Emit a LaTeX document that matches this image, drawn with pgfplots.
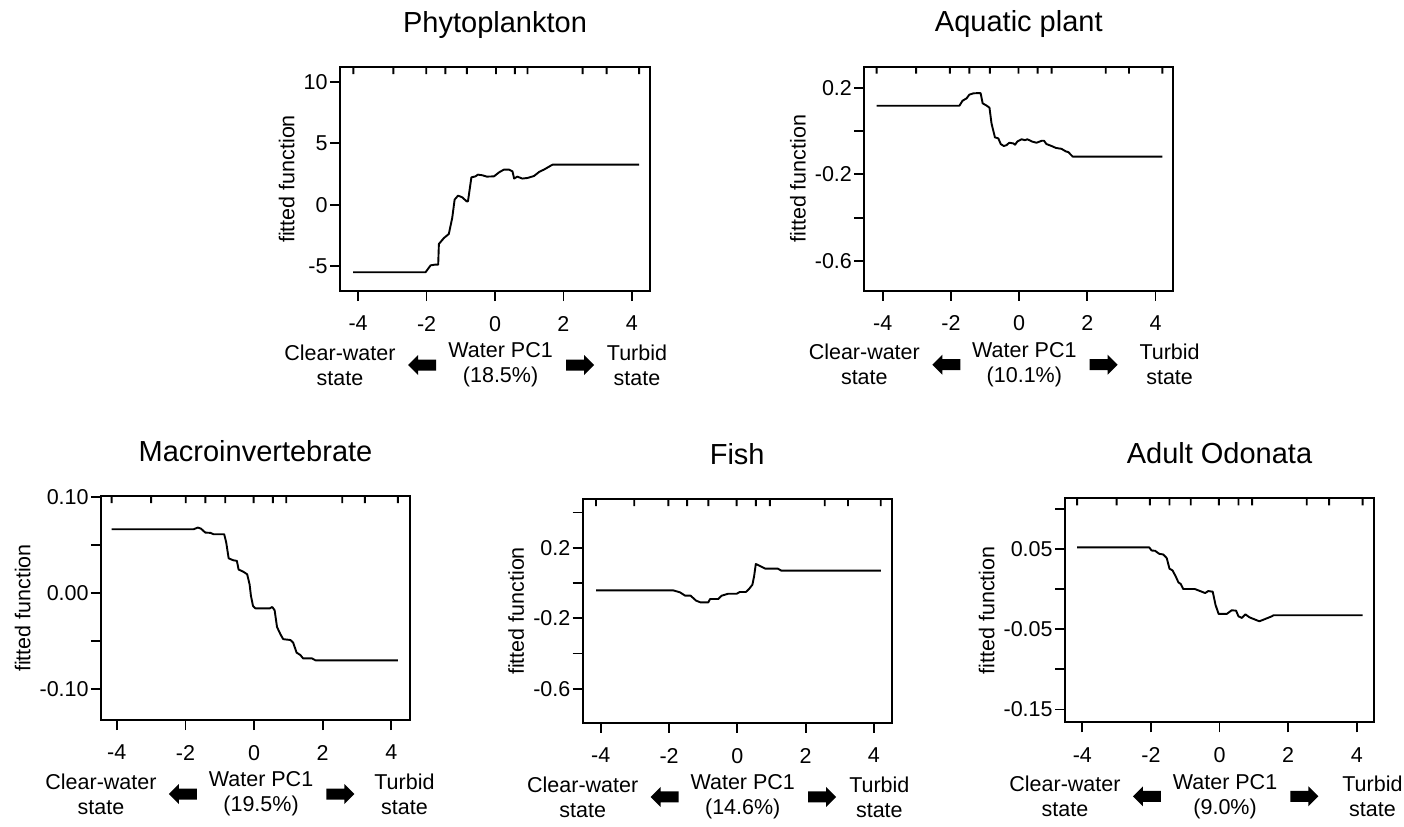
\documentclass[border=0pt]{standalone}
\usepackage{pgfplots}
\pgfplotsset{compat=1.18}
\usepackage{fontspec}
\setmainfont{Liberation Sans}
\newcommand\lbl{\fontsize{10.75}{12.5}\selectfont}
\newcommand\ttl{\fontsize{14.5}{17}\selectfont}
\pgfplotsset{
  panel/.style={
    scale only axis, width=154.5pt, height=112pt,
    axis line style={line width=0.9pt},
    every tick/.style={black, line width=0.9pt},
    tick align=outside, major tick length=5pt,
    xtick pos=bottom, ytick pos=left,
    xtick={-4,-2,0,2,4}, xticklabels={-4,-2,0,2,4},
    tick label style={font=\lbl},
    xticklabel style={yshift=-4pt},
    yticklabel style={inner xsep=1pt},
    /pgf/number format/assume math mode=true,
    ylabel={fitted function}, ylabel style={font=\lbl},
    title style={font=\ttl, at={(0.5,1)}, anchor=base, yshift=11.5pt},
    clip=false, unbounded coords=jump,
  },
  curve/.style={black, line width=0.95pt, no marks, line join=round},
}
% bottom annotations: #1 = water label, #2 = rel x of "Turbid", #3 = name prefix
\newcommand\bottomtext[3]{%
  \node[font=\lbl, align=center, yshift=-37pt] at (rel axis cs:0,0) {Clear-water\\state};
  \node[font=\lbl, align=center, yshift=-37pt] at (rel axis cs:0.518,0) {Water PC1\\#1};
  \node[font=\lbl, align=center, yshift=-37pt] at (rel axis cs:#2,0) {Turbid\\state};
  \coordinate (#3L) at (rel axis cs:0.22,0);
  \coordinate (#3R) at (rel axis cs:0.82,0);
}
\newcommand\blockarrows[1]{%
  \fill ([yshift=-37pt]#1L) -- ++(5pt,5pt) -- ++(0pt,-2.25pt) -- ++(9pt,0pt) -- ++(0pt,-5.5pt) -- ++(-9pt,0pt) -- ++(0pt,-2.25pt) -- cycle;
  \fill ([yshift=-37pt]#1R) -- ++(-5pt,5pt) -- ++(0pt,-2.25pt) -- ++(-9pt,0pt) -- ++(0pt,-5.5pt) -- ++(9pt,0pt) -- ++(0pt,-2.25pt) -- cycle;
}
\begin{document}
\begin{tikzpicture}
\useasboundingbox (0,0) rectangle (702pt,-413pt);

% Phytoplankton
\begin{axis}[panel, at={(170pt,-33.5pt)}, anchor=north west, width=155pt,
  title={Phytoplankton}, xmin=-4.53, xmax=4.53, ymin=-7.03, ymax=11.2,
  ytick={-5,0,5,10}, yticklabels={-5,0,5,10}]
\addplot[curve] coordinates {(-4.15,-5.5) (-2.03,-5.5) (-1.88,-4.94) (-1.74,-4.88) (-1.66,-4.88) (-1.64,-3.2) (-1.49,-2.71) (-1.35,-2.39) (-1.25,-1.08) (-1.18,0.41) (-1.08,0.73) (-0.96,0.6) (-0.83,0.27) (-0.79,0.27) (-0.69,2.22) (-0.57,2.3) (-0.5,2.44) (-0.37,2.39) (-0.24,2.28) (-0.03,2.3) (0.12,2.63) (0.26,2.85) (0.41,2.85) (0.51,2.71) (0.56,2.12) (0.65,2.28) (0.8,2.12) (0.95,2.17) (1.14,2.33) (1.29,2.66) (1.43,2.85) (1.68,3.25) (4.21,3.25)
(4.21,nan)
(-4.14,11.2) (-4.14,10.63) (-4.14,nan)
(-2.97,11.2) (-2.97,10.63) (-2.97,nan)
(-2.01,11.2) (-2.01,10.63) (-2.01,nan)
(-1.45,11.2) (-1.45,10.63) (-1.45,nan)
(-0.82,11.2) (-0.82,10.63) (-0.82,nan)
(0.03,11.2) (0.03,10.63) (0.03,nan)
(0.58,11.2) (0.58,10.63) (0.58,nan)
(0.95,11.2) (0.95,10.63) (0.95,nan)
(2.56,11.2) (2.56,10.63) (2.56,nan)
(3.26,11.2) (3.26,10.63) (3.26,nan)
(4.21,11.2) (4.21,10.63)};
\bottomtext{(18.5\%)}{0.958}{pa}
\end{axis}
\blockarrows{pa}

% Aquatic plant
\begin{axis}[panel, at={(432.15pt,-33.35pt)}, anchor=north west,
  title={Aquatic plant}, xmin=-4.54, xmax=4.52, ymin=-0.737, ymax=0.297,
  ytick={-0.6,-0.4,-0.2,0,0.2}, yticklabels={-0.6,,-0.2,,0.2}]
\addplot[curve] coordinates {(-4.18,0.117) (-1.75,0.117) (-1.66,0.14) (-1.54,0.151) (-1.46,0.168) (-1.34,0.174) (-1.23,0.175) (-1.13,0.175) (-1.07,0.128) (-0.95,0.117) (-0.87,0.108) (-0.81,0.035) (-0.71,-0.029) (-0.61,-0.034) (-0.54,-0.06) (-0.45,-0.069) (-0.37,-0.065) (-0.29,-0.054) (-0.17,-0.057) (-0.12,-0.063) (-0.05,-0.048) (0.07,-0.038) (0.17,-0.042) (0.24,-0.038) (0.39,-0.049) (0.51,-0.054) (0.66,-0.045) (0.73,-0.045) (0.8,-0.06) (0.95,-0.069) (1.08,-0.078) (1.24,-0.082) (1.37,-0.094) (1.44,-0.097) (1.57,-0.118) (4.2,-0.118)
(4.2,nan)
(-4.18,0.297) (-4.18,0.2647) (-4.18,nan)
(-3.02,0.297) (-3.02,0.2647) (-3.02,nan)
(-2.03,0.297) (-2.03,0.2647) (-2.03,nan)
(-1.46,0.297) (-1.46,0.2647) (-1.46,nan)
(-0.86,0.297) (-0.86,0.2647) (-0.86,nan)
(-0.02,0.297) (-0.02,0.2647) (-0.02,nan)
(0.54,0.297) (0.54,0.2647) (0.54,nan)
(0.95,0.297) (0.95,0.2647) (0.95,nan)
(2.54,0.297) (2.54,0.2647) (2.54,nan)
(3.22,0.297) (3.22,0.2647) (3.22,nan)
(4.2,0.297) (4.2,0.2647)};
\bottomtext{(10.1\%)}{0.988}{pb}
\end{axis}
\blockarrows{pb}

% Macroinvertebrate
\begin{axis}[panel, at={(50.5pt,-248pt)}, anchor=north west,
  title={Macroinvertebrate}, xmin=-4.46, xmax=4.545, ymin=-0.132, ymax=0.1007,
  ytick={-0.1,-0.05,0,0.05,0.1}, yticklabels={-0.10,,0.00,,0.10}]
\addplot[curve] coordinates {(-4.15,0.0662) (-1.76,0.0662) (-1.64,0.0679) (-1.55,0.0669) (-1.42,0.0627) (-1.27,0.0624) (-1.18,0.061) (-0.87,0.061) (-0.81,0.0523) (-0.74,0.036) (-0.61,0.034) (-0.5,0.0333) (-0.45,0.0243) (-0.32,0.0222) (-0.2,0.0194) (-0.13,0.009) (-0.09,-0.0031) (-0.03,-0.0135) (0.04,-0.016) (0.46,-0.016) (0.53,-0.0146) (0.6,-0.018) (0.67,-0.0354) (0.77,-0.043) (0.85,-0.048) (1.06,-0.0489) (1.14,-0.0516) (1.24,-0.062) (1.35,-0.0645) (1.43,-0.068) (1.69,-0.068) (1.79,-0.07) (4.19,-0.07)
(4.19,nan)
(-4.15,0.1007) (-4.15,0.0934) (-4.15,nan)
(-3.0,0.1007) (-3.0,0.0934) (-3.0,nan)
(-1.99,0.1007) (-1.99,0.0934) (-1.99,nan)
(-1.42,0.1007) (-1.42,0.0934) (-1.42,nan)
(-0.84,0.1007) (-0.84,0.0934) (-0.84,nan)
(-0.01,0.1007) (-0.01,0.0934) (-0.01,nan)
(0.55,0.1007) (0.55,0.0934) (0.55,nan)
(0.94,0.1007) (0.94,0.0934) (0.94,nan)
(2.57,0.1007) (2.57,0.0934) (2.57,nan)
(3.23,0.1007) (3.23,0.0934) (3.23,nan)
(4.19,0.1007) (4.19,0.0934)};
\bottomtext{(19.5\%)}{0.982}{pc}
\end{axis}
\blockarrows{pc}

% Fish
\begin{axis}[panel, at={(291.35pt,-249.5pt)}, anchor=north west,
  title={Fish}, xmin=-4.53, xmax=4.52, ymin=-0.795, ymax=0.477,
  ytick={-0.6,-0.4,-0.2,0,0.2,0.4}, yticklabels={-0.6,,-0.2,,0.2,}]
\addplot[curve] coordinates {(-4.14,-0.0417) (-1.88,-0.0417) (-1.68,-0.053) (-1.53,-0.072) (-1.37,-0.072) (-1.21,-0.1) (-1.08,-0.11) (-0.85,-0.11) (-0.8,-0.091) (-0.56,-0.091) (-0.46,-0.072) (-0.27,-0.061) (-0.02,-0.061) (0.07,-0.051) (0.25,-0.051) (0.35,-0.032) (0.44,-0.0095) (0.49,0.038) (0.54,0.108) (0.64,0.099) (0.81,0.082) (1.18,0.082) (1.29,0.07) (4.2,0.07)
(4.2,nan)
(-4.14,0.477) (-4.14,0.4372) (-4.14,nan)
(-3.02,0.477) (-3.02,0.4372) (-3.02,nan)
(-2.02,0.477) (-2.02,0.4372) (-2.02,nan)
(-1.47,0.477) (-1.47,0.4372) (-1.47,nan)
(-0.85,0.477) (-0.85,0.4372) (-0.85,nan)
(-0.02,0.477) (-0.02,0.4372) (-0.02,nan)
(0.54,0.477) (0.54,0.4372) (0.54,nan)
(0.95,0.477) (0.95,0.4372) (0.95,nan)
(2.56,0.477) (2.56,0.4372) (2.56,nan)
(3.24,0.477) (3.24,0.4372) (3.24,nan)
(4.2,0.477) (4.2,0.4372)};
\bottomtext{(14.6\%)}{0.96}{pd}
\end{axis}
\blockarrows{pd}

% Adult Odonata
\begin{axis}[panel, at={(532.5pt,-249.15pt)}, anchor=north west,
  title={Adult Odonata}, xmin=-4.505, xmax=4.5, ymin=-0.166, ymax=0.113,
  ytick={-0.15,-0.1,-0.05,0,0.05,0.1}, yticklabels={-0.15,,-0.05,,0.05,}]
\addplot[curve] coordinates {(-4.15,0.0518) (-2.05,0.0518) (-1.98,0.048) (-1.88,0.0476) (-1.76,0.0439) (-1.64,0.043) (-1.54,0.0385) (-1.46,0.0253) (-1.37,0.0232) (-1.27,0.0149) (-1.2,0.0083) (-1.13,0.0062) (-1.06,0) (-0.72,0) (-0.57,-0.0025) (-0.42,-0.005) (-0.33,-0.0025) (-0.2,-0.0033) (-0.12,-0.0195) (-0.03,-0.031) (0.21,-0.031) (0.35,-0.0265) (0.48,-0.0269) (0.55,-0.034) (0.65,-0.036) (0.75,-0.0315) (0.87,-0.0352) (1.03,-0.038) (1.16,-0.0402) (1.33,-0.0373) (1.52,-0.034) (1.57,-0.0327) (4.17,-0.0327)
(4.17,nan)
(-4.15,0.113) (-4.15,0.1043) (-4.15,nan)
(-3.0,0.113) (-3.0,0.1043) (-3.0,nan)
(-2.03,0.113) (-2.03,0.1043) (-2.03,nan)
(-1.46,0.113) (-1.46,0.1043) (-1.46,nan)
(-0.84,0.113) (-0.84,0.1043) (-0.84,nan)
(-0.02,0.113) (-0.02,0.1043) (-0.02,nan)
(0.55,0.113) (0.55,0.1043) (0.55,nan)
(0.95,0.113) (0.95,0.1043) (0.95,nan)
(2.54,0.113) (2.54,0.1043) (2.54,nan)
(3.19,0.113) (3.19,0.1043) (3.19,nan)
(4.17,0.113) (4.17,0.1043)};
\bottomtext{(9.0\%)}{0.995}{pe}
\end{axis}
\blockarrows{pe}
\end{tikzpicture}
\end{document}
